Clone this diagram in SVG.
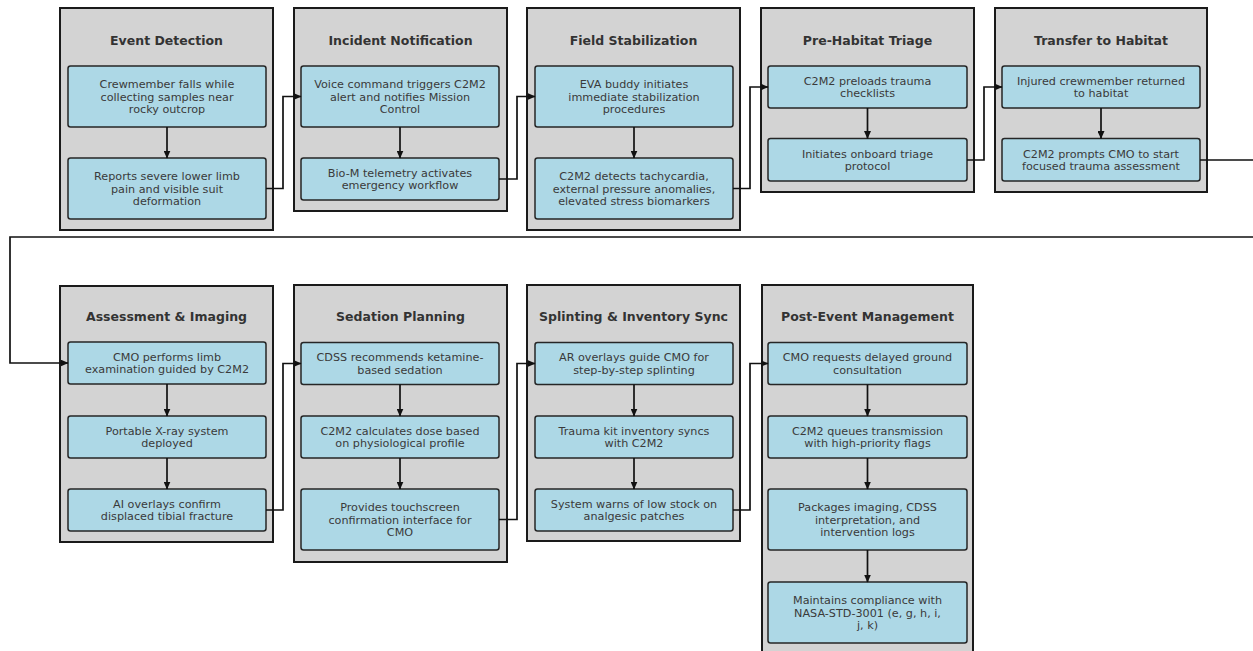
<svg xmlns="http://www.w3.org/2000/svg" width="1253" height="651" viewBox="0 0 1253 651">
<defs>
<marker id="ah" markerWidth="8" markerHeight="7" refX="7.5" refY="3.5" orient="auto" markerUnits="userSpaceOnUse">
<path d="M0,0 L8,3.5 L0,7 Z" fill="#111"/>
</marker>
<style>
.panel{fill:#d3d3d3;stroke:#1a1a1a;stroke-width:2}
.box{fill:#add8e6;stroke:#262626;stroke-width:1.5}
.title{font-family:"DejaVu Sans",sans-serif;font-weight:bold;font-size:12.5px;fill:#333;text-anchor:middle}
.t{font-family:"DejaVu Sans",sans-serif;font-size:11.2px;fill:#3a3a3a;text-anchor:middle}
.c{fill:none;stroke:#111;stroke-width:1.7}
.ca{fill:none;stroke:#111;stroke-width:1.7;marker-end:url(#ah)}
</style>
</defs>
<rect width="1253" height="651" fill="#fff"/>

<g id="p1">
<rect class="panel" x="60" y="8" width="213" height="222"/>
<text class="title" x="166.5" y="44.5">Event Detection</text>
<rect class="box" x="68" y="66" width="198" height="61" rx="2.5"/>
<text class="t" x="167" y="88"><tspan x="167">Crewmember falls while</tspan><tspan x="167" dy="12.6">collecting samples near</tspan><tspan x="167" dy="12.6">rocky outcrop</tspan></text>
<rect class="box" x="68" y="158" width="198" height="61" rx="2.5"/>
<text class="t" x="167" y="180"><tspan x="167">Reports severe lower limb</tspan><tspan x="167" dy="12.6">pain and visible suit</tspan><tspan x="167" dy="12.6">deformation</tspan></text>
<path class="ca" d="M167,127 V158"/>
</g>

<g id="p2">
<rect class="panel" x="294" y="8" width="213" height="203"/>
<text class="title" x="400.5" y="44.5">Incident Notification</text>
<rect class="box" x="301" y="66" width="198" height="61" rx="2.5"/>
<text class="t" x="400" y="88"><tspan x="400">Voice command triggers C2M2</tspan><tspan x="400" dy="12.6">alert and notifies Mission</tspan><tspan x="400" dy="12.6">Control</tspan></text>
<rect class="box" x="301" y="158" width="198" height="42" rx="2.5"/>
<text class="t" x="400" y="176.7"><tspan x="400">Bio-M telemetry activates</tspan><tspan x="400" dy="12.6">emergency workflow</tspan></text>
<path class="ca" d="M400,127 V158"/>
</g>

<g id="p3">
<rect class="panel" x="527" y="8" width="213" height="222"/>
<text class="title" x="633.5" y="44.5">Field Stabilization</text>
<rect class="box" x="535" y="66" width="198" height="61" rx="2.5"/>
<text class="t" x="634" y="88"><tspan x="634">EVA buddy initiates</tspan><tspan x="634" dy="12.6">immediate stabilization</tspan><tspan x="634" dy="12.6">procedures</tspan></text>
<rect class="box" x="535" y="158" width="198" height="61" rx="2.5"/>
<text class="t" x="634" y="180"><tspan x="634">C2M2 detects tachycardia,</tspan><tspan x="634" dy="12.6">external pressure anomalies,</tspan><tspan x="634" dy="12.6">elevated stress biomarkers</tspan></text>
<path class="ca" d="M634,127 V158"/>
</g>

<g id="p4">
<rect class="panel" x="761" y="8" width="213" height="184"/>
<text class="title" x="867.5" y="44.5">Pre-Habitat Triage</text>
<rect class="box" x="768" y="66" width="199" height="42" rx="2.5"/>
<text class="t" x="867.5" y="84.7"><tspan x="867.5">C2M2 preloads trauma</tspan><tspan x="867.5" dy="12.6">checklists</tspan></text>
<rect class="box" x="768" y="138.5" width="199" height="42.5" rx="2.5"/>
<text class="t" x="867.5" y="157.5"><tspan x="867.5">Initiates onboard triage</tspan><tspan x="867.5" dy="12.6">protocol</tspan></text>
<path class="ca" d="M867.5,108 V138.5"/>
</g>

<g id="p5">
<rect class="panel" x="995" y="8" width="212" height="184"/>
<text class="title" x="1101" y="44.5">Transfer to Habitat</text>
<rect class="box" x="1002" y="66" width="198" height="42" rx="2.5"/>
<text class="t" x="1101" y="84.7"><tspan x="1101">Injured crewmember returned</tspan><tspan x="1101" dy="12.6">to habitat</tspan></text>
<rect class="box" x="1002" y="138.5" width="198" height="42.5" rx="2.5"/>
<text class="t" x="1101" y="157.5"><tspan x="1101">C2M2 prompts CMO to start</tspan><tspan x="1101" dy="12.6">focused trauma assessment</tspan></text>
<path class="ca" d="M1101,108 V138.5"/>
</g>

<g id="p6">
<rect class="panel" x="60" y="286" width="213" height="256"/>
<text class="title" x="166.5" y="321">Assessment &amp; Imaging</text>
<rect class="box" x="68" y="342" width="198" height="42" rx="2.5"/>
<text class="t" x="167" y="360.7"><tspan x="167">CMO performs limb</tspan><tspan x="167" dy="12.6">examination guided by C2M2</tspan></text>
<rect class="box" x="68" y="416" width="198" height="42" rx="2.5"/>
<text class="t" x="167" y="434.7"><tspan x="167">Portable X-ray system</tspan><tspan x="167" dy="12.6">deployed</tspan></text>
<rect class="box" x="68" y="489" width="198" height="42" rx="2.5"/>
<text class="t" x="167" y="507.7"><tspan x="167">AI overlays confirm</tspan><tspan x="167" dy="12.6">displaced tibial fracture</tspan></text>
<path class="ca" d="M167,384 V416"/>
<path class="ca" d="M167,458 V489"/>
</g>

<g id="p7">
<rect class="panel" x="294" y="285" width="213" height="277"/>
<text class="title" x="400.5" y="320.5">Sedation Planning</text>
<rect class="box" x="301" y="342.5" width="198" height="42" rx="2.5"/>
<text class="t" x="400" y="361.2"><tspan x="400">CDSS recommends ketamine-</tspan><tspan x="400" dy="12.6">based sedation</tspan></text>
<rect class="box" x="301" y="416" width="198" height="42" rx="2.5"/>
<text class="t" x="400" y="434.7"><tspan x="400">C2M2 calculates dose based</tspan><tspan x="400" dy="12.6">on physiological profile</tspan></text>
<rect class="box" x="301" y="489" width="198" height="61" rx="2.5"/>
<text class="t" x="400" y="511"><tspan x="400">Provides touchscreen</tspan><tspan x="400" dy="12.6">confirmation interface for</tspan><tspan x="400" dy="12.6">CMO</tspan></text>
<path class="ca" d="M400,384.5 V416"/>
<path class="ca" d="M400,458 V489"/>
</g>

<g id="p8">
<rect class="panel" x="527" y="285" width="213" height="256"/>
<text class="title" x="633.5" y="320.5">Splinting &amp; Inventory Sync</text>
<rect class="box" x="535" y="342.5" width="198" height="42" rx="2.5"/>
<text class="t" x="634" y="361.2"><tspan x="634">AR overlays guide CMO for</tspan><tspan x="634" dy="12.6">step-by-step splinting</tspan></text>
<rect class="box" x="535" y="416" width="198" height="42" rx="2.5"/>
<text class="t" x="634" y="434.7"><tspan x="634">Trauma kit inventory syncs</tspan><tspan x="634" dy="12.6">with C2M2</tspan></text>
<rect class="box" x="535" y="489" width="198" height="42" rx="2.5"/>
<text class="t" x="634" y="507.7"><tspan x="634">System warns of low stock on</tspan><tspan x="634" dy="12.6">analgesic patches</tspan></text>
<path class="ca" d="M634,384.5 V416"/>
<path class="ca" d="M634,458 V489"/>
</g>

<g id="p9">
<rect class="panel" x="762" y="285" width="211" height="372"/>
<text class="title" x="867.5" y="320.5">Post-Event Management</text>
<rect class="box" x="768" y="342.5" width="199" height="42" rx="2.5"/>
<text class="t" x="867.5" y="361.2"><tspan x="867.5">CMO requests delayed ground</tspan><tspan x="867.5" dy="12.6">consultation</tspan></text>
<rect class="box" x="768" y="416" width="199" height="42" rx="2.5"/>
<text class="t" x="867.5" y="434.7"><tspan x="867.5">C2M2 queues transmission</tspan><tspan x="867.5" dy="12.6">with high-priority flags</tspan></text>
<rect class="box" x="768" y="489" width="199" height="61" rx="2.5"/>
<text class="t" x="867.5" y="511"><tspan x="867.5">Packages imaging, CDSS</tspan><tspan x="867.5" dy="12.6">interpretation, and</tspan><tspan x="867.5" dy="12.6">intervention logs</tspan></text>
<rect class="box" x="768" y="582" width="199" height="61" rx="2.5"/>
<text class="t" x="867.5" y="604"><tspan x="867.5">Maintains compliance with</tspan><tspan x="867.5" dy="12.6">NASA-STD-3001 (e, g, h, i,</tspan><tspan x="867.5" dy="12.6">j, k)</tspan></text>
<path class="ca" d="M867.5,384.5 V416"/>
<path class="ca" d="M867.5,458 V489"/>
<path class="ca" d="M867.5,550 V582"/>
</g>

<g id="connectors">
<path class="ca" d="M266,188.5 H283 V96.5 H301"/>
<path class="ca" d="M499,179 H517 V96.5 H535"/>
<path class="ca" d="M733,188.5 H750 V87 H768"/>
<path class="ca" d="M967,160 H984 V87 H1002"/>
<path class="ca" d="M1200,160 H1262 V237 H10 V363 H68"/>
<path class="ca" d="M266,510 H283 V363.5 H301"/>
<path class="ca" d="M499,519.5 H517 V363.5 H535"/>
<path class="ca" d="M733,510 H750 V363.5 H768"/>
</g>
</svg>
